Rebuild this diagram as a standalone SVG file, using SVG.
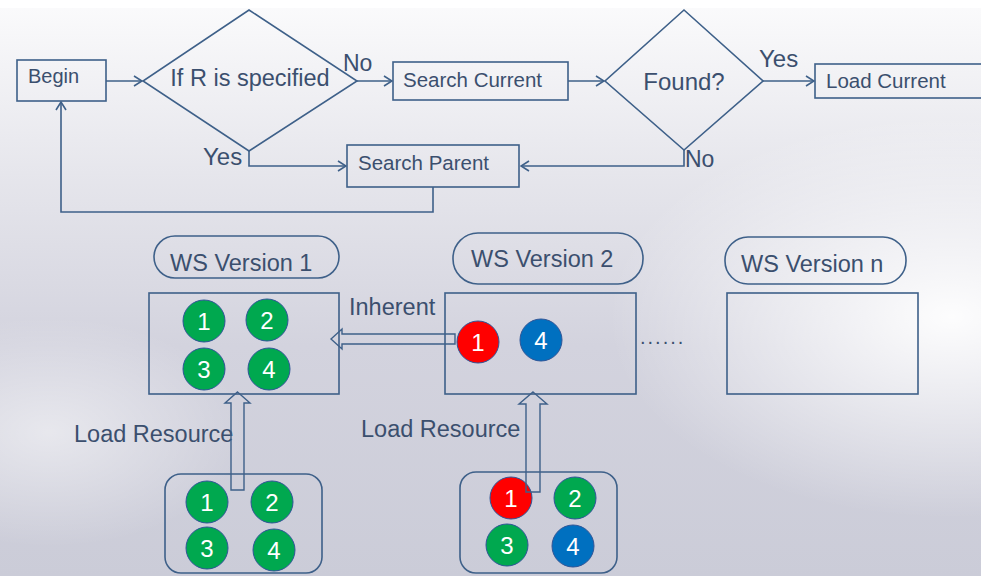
<svg xmlns="http://www.w3.org/2000/svg" width="981" height="576" viewBox="0 0 981 576">
<defs>
<linearGradient id="bg" x1="0" y1="0" x2="0" y2="1">
<stop offset="0" stop-color="#fbfbfc"/>
<stop offset="0.3" stop-color="#e6e6ec"/>
<stop offset="0.6" stop-color="#d3d3de"/>
<stop offset="1" stop-color="#cbccd8"/>
</linearGradient>
<radialGradient id="glow" cx="0.97" cy="0.55" r="0.35">
<stop offset="0" stop-color="#ffffff" stop-opacity="0.95"/>
<stop offset="1" stop-color="#ffffff" stop-opacity="0"/>
</radialGradient>
<radialGradient id="glow2" cx="0.05" cy="0.75" r="0.2">
<stop offset="0" stop-color="#ffffff" stop-opacity="0.5"/>
<stop offset="1" stop-color="#ffffff" stop-opacity="0"/>
</radialGradient>
<marker id="arr" markerWidth="10" markerHeight="12" refX="9" refY="6" orient="auto" markerUnits="userSpaceOnUse">
<path d="M1,1 L9,6 L1,11" fill="none" stroke="#3e6089" stroke-width="1.6"/>
</marker>
<style>
.box{fill:none;stroke:#3e6089;stroke-width:1.6}
.ln{fill:none;stroke:#3e6089;stroke-width:1.6}
.t{font-family:"Liberation Sans",Arial,sans-serif;fill:#3b4f6e}
.c{stroke:#2f5597;stroke-width:1}
.g{fill:#00a84f}
.r{fill:#ff0000}
.b{fill:#0070c0}
.n{font-family:"Liberation Sans",Arial,sans-serif;fill:#ffffff;font-size:24px;text-anchor:middle}
.blk{fill:none;stroke:#3e6089;stroke-width:1.4}
</style>
</defs>
<rect x="0" y="0" width="981" height="576" fill="url(#bg)"/>
<rect x="0" y="0" width="981" height="576" fill="url(#glow)"/>
<rect x="0" y="0" width="981" height="576" fill="url(#glow2)"/>
<rect x="0" y="0" width="981" height="8" fill="#ffffff"/>

<g id="connectors">
<line class="ln" x1="106" y1="81" x2="142" y2="81" marker-end="url(#arr)"/>
<line class="ln" x1="357" y1="81" x2="392" y2="81" marker-end="url(#arr)"/>
<line class="ln" x1="568" y1="81" x2="604" y2="81" marker-end="url(#arr)"/>
<line class="ln" x1="763" y1="81" x2="814" y2="81" marker-end="url(#arr)"/>
<polyline class="ln" points="249,151 249,166 346,166" marker-end="url(#arr)"/>
<polyline class="ln" points="684,150 684,166 521,166" marker-end="url(#arr)"/>
<polyline class="ln" points="433,187 433,212 61,212 61,102" marker-end="url(#arr)"/>
<text class="t" x="343" y="71" font-size="23">No</text>
<text class="t" x="759" y="67" font-size="24">Yes</text>
<text class="t" x="203" y="165" font-size="24">Yes</text>
<text class="t" x="685" y="167" font-size="23">No</text>
<polygon class="blk" points="331,339 342,329 342,334 455,334 455,344 342,344 342,349"/>
<text class="t" x="349" y="315" font-size="23.5">Inherent</text>
<text class="t" x="74" y="442" font-size="23.5">Load Resource</text>
<text class="t" x="361" y="437" font-size="23.5">Load Resource</text>
<text class="t" x="640" y="344" font-size="20" letter-spacing="2">......</text>
</g>

<g id="begin">
<rect class="box" x="17" y="60" width="89" height="41"/>
<text class="t" x="28" y="83" font-size="20">Begin</text>
</g>
<g id="if-r">
<polygon class="box" points="249,10 357,81 249,151 143,81"/>
<text class="t" x="250" y="86" font-size="23.5" text-anchor="middle">If R is specified</text>
</g>
<g id="search-current">
<rect class="box" x="393" y="62" width="175" height="38"/>
<text class="t" x="403" y="87" font-size="20.5">Search Current</text>
</g>
<g id="found">
<polygon class="box" points="684,10 763,81 684,150 605,81"/>
<text class="t" x="684" y="90" font-size="24" text-anchor="middle">Found?</text>
</g>
<g id="load-current">
<rect class="box" x="815" y="64" width="180" height="34"/>
<text class="t" x="826" y="88" font-size="20.5">Load Current</text>
</g>
<g id="search-parent">
<rect class="box" x="347" y="145" width="172" height="42"/>
<text class="t" x="358" y="170" font-size="20.5">Search Parent</text>
</g>

<g id="ws1-label">
<rect class="box" x="154" y="236" width="185" height="42" rx="21"/>
<text class="t" x="170" y="271" font-size="23.5">WS Version 1</text>
</g>
<g id="ws2-label">
<rect class="box" x="453" y="233" width="190" height="51" rx="25"/>
<text class="t" x="471" y="267" font-size="23.5">WS Version 2</text>
</g>
<g id="wsn-label">
<rect class="box" x="725" y="237" width="181" height="47" rx="23"/>
<text class="t" x="741" y="272" font-size="23.5">WS Version n</text>
</g>

<g id="ws1">
<rect class="box" x="149" y="293" width="190" height="101"/>
<circle class="c g" cx="204" cy="321" r="21"/><text class="n" x="204" y="329.5">1</text>
<circle class="c g" cx="267" cy="320" r="21"/><text class="n" x="267" y="328.5">2</text>
<circle class="c g" cx="204" cy="369" r="21"/><text class="n" x="204" y="377.5">3</text>
<circle class="c g" cx="269" cy="369" r="21"/><text class="n" x="269" y="377.5">4</text>
</g>
<g id="ws2">
<rect class="box" x="445" y="293" width="191" height="101"/>
<circle class="c r" cx="478" cy="342" r="21"/><text class="n" x="478" y="350.5">1</text>
<circle class="c b" cx="541" cy="340" r="21"/><text class="n" x="541" y="348.5">4</text>
</g>
<g id="wsn">
<rect class="box" x="727" y="293" width="191" height="101"/>
</g>

<g id="res1">
<rect class="box" x="165" y="474" width="157" height="99" rx="16"/>
<circle class="c g" cx="207" cy="502" r="21"/><text class="n" x="207" y="510.5">1</text>
<circle class="c g" cx="272" cy="502" r="21"/><text class="n" x="272" y="510.5">2</text>
<circle class="c g" cx="207" cy="548" r="21"/><text class="n" x="207" y="556.5">3</text>
<circle class="c g" cx="274" cy="550" r="21"/><text class="n" x="274" y="558.5">4</text>
</g>
<g id="res2">
<rect class="box" x="460" y="472" width="157" height="101" rx="16"/>
<circle class="c r" cx="511" cy="498" r="21"/><text class="n" x="511" y="506.5">1</text>
<circle class="c g" cx="575" cy="498" r="21"/><text class="n" x="575" y="506.5">2</text>
<circle class="c g" cx="507" cy="545" r="21"/><text class="n" x="507" y="553.5">3</text>
<circle class="c b" cx="573" cy="546" r="21"/><text class="n" x="573" y="554.5">4</text>
</g>

<g id="load-arrows">
<polygon class="blk" points="237.5,392 250,403 244,403 244,490 231,490 231,403 225,403"/>
<polygon class="blk" points="533,392 547,404 540,404 540,492 526,492 526,404 519,404"/>
</g>
</svg>
